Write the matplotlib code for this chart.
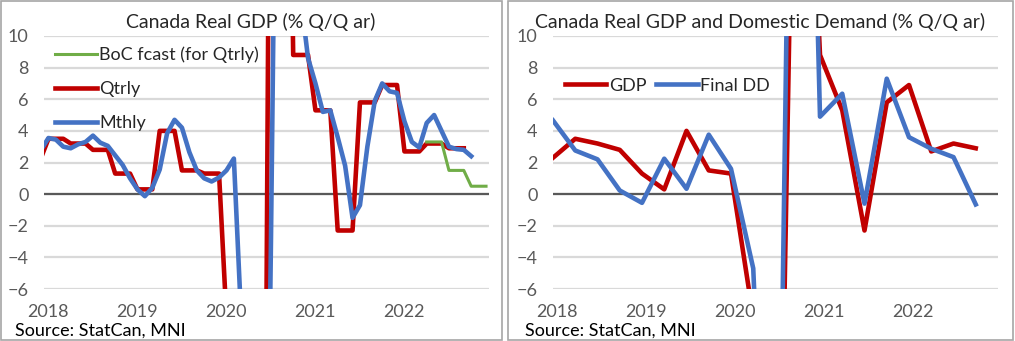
import matplotlib.pyplot as plt
from matplotlib.patches import Rectangle
import numpy as np

plt.rcParams['font.family'] = ['Lato', 'DejaVu Sans']

# GDP q/q annualized, 2017Q4 .. 2022Q3
gdp_q = [2.3, 3.5, 3.2, 2.8, 1.3, 0.3, 4.0, 1.5, 1.3, -7.8,
         -38.0, 40.0, 8.8, 5.3, -2.3, 5.8, 6.9, 2.7, 3.2, 2.9]
# Final domestic demand q/q annualized, 2017Q4 .. 2022Q3
fdd_q = [4.66, 2.76, 2.2, 0.23, -0.55, 2.24, 0.34, 3.76, 1.6, -4.7,
         -38.0, 60.0, 4.9, 6.35, -0.6, 7.3, 3.6, 2.87, 2.34, -0.65]
# BoC forecast, 2022Q2 .. 2022Q4
boc_q = [3.3, 1.5, 0.5]
# monthly GDP, 3m/3m annualized, Dec 2017 .. Oct 2022
gdp_m = [2.8, 3.55, 3.45, 3.0, 2.9, 3.15, 3.3, 3.7, 3.25, 3.05,
         2.45, 1.85, 1.0, 0.3, -0.13, 0.4, 1.55, 3.85, 4.7, 4.2,
         2.65, 1.5, 1.0, 0.8, 1.05, 1.5, 2.25, -8.0, -30.0, -43.0,
         -40.0, -3.0, 38.0, 50.0, 28.0, 12.5, 8.6, 7.0, 5.2, 5.3,
         3.6, 1.8, -1.5, -0.7, 3.0, 5.9, 7.0, 6.5, 6.4, 4.6,
         3.3, 2.95, 4.5, 5.0, 4.0, 3.0, 2.85, 2.8, 2.4]
years = ['2018', '2019', '2020', '2021', '2022']

RED = '#C00000'
BLUE = '#4472C4'
GREEN = '#70AD47'
GREY = '#595959'

# month index: 0 = Jan 2018
qtrly = np.concatenate([[gdp_q[0]], np.repeat(gdp_q[1:], 3)])
m_qtrly = np.arange(-1, -1 + len(qtrly))
m_mthly = np.arange(-1, -1 + len(gdp_m))
m_boc = np.arange(51, 51 + 3 * len(boc_q))
boc = np.repeat(boc_q, 3)
m_quarter = np.arange(len(gdp_q)) * 3 - 1

W, H = 1015, 341
fig = plt.figure(figsize=(W / 100, H / 100), dpi=100)


def px_axes(x0, x1, ytop, ybot):
    return fig.add_axes([x0 / W, 1 - ybot / H, (x1 - x0) / W, (ybot - ytop) / H])


def style(ax):
    ax.set_ylim(-6, 10)
    ax.set_yticks(range(-6, 11, 2))
    for s in ax.spines.values():
        s.set_visible(False)
    ax.yaxis.grid(True, color='#D9D9D9', lw=1.6)
    ax.set_axisbelow(True)
    ax.axhline(0, color=GREY, lw=1.6, zorder=1)
    ax.tick_params(length=0, labelsize=13, colors=GREY)
    ax.tick_params(axis='y', pad=11)
    ax.tick_params(axis='x', pad=11)


lw = 3.3

# left panel
ax1 = px_axes(44, 489, 36, 289)
style(ax1)
ax1.plot(m_boc, boc, color=GREEN, lw=2.2, label='BoC fcast (for Qtrly)', zorder=3)
ax1.plot(m_qtrly, qtrly, color=RED, lw=lw, label='Qtrly', zorder=2)
ax1.plot(m_mthly, gdp_m, color=BLUE, lw=lw, label='Mthly', zorder=4)
ax1.set_xlim(-0.6, 59.4)
ax1.set_xticks(np.arange(len(years)) * 12)
ax1.set_xticklabels(years)
ax1.legend(loc='upper left', bbox_to_anchor=(0.025, 0.958), frameon=False,
           fontsize=13, handlelength=2.3, handletextpad=0.15, labelspacing=1.0,
           borderaxespad=0, borderpad=0, labelcolor='#262626')

# right panel
ax2 = px_axes(553, 998, 36, 289)
style(ax2)
ax2.plot(m_quarter, gdp_q, color=RED, lw=lw, label='GDP', zorder=2)
ax2.plot(m_quarter, fdd_q, color=BLUE, lw=lw, label='Final DD', zorder=3)
ax2.set_xlim(-1, 59)
ax2.set_xticks(np.arange(len(years)) * 12 - 0.4)
ax2.set_xticklabels(years)
ax2.legend(loc='upper left', bbox_to_anchor=(0.026, 0.835), frameon=False, ncol=2,
           fontsize=13, handlelength=2.3, handletextpad=0.15, columnspacing=0.55,
           borderaxespad=0, borderpad=0, labelcolor='#262626')

# titles and sources
fig.text(251 / W, 1 - 28 / H, 'Canada Real GDP (% Q/Q ar)', ha='center',
         va='baseline', fontsize=14, color='#262626')
fig.text(760 / W, 1 - 28 / H, 'Canada Real GDP and Domestic Demand (% Q/Q ar)',
         ha='center', va='baseline', fontsize=14, color='#262626')
fig.text(15 / W, 1 - 336 / H, 'Source: StatCan, MNI', ha='left', va='baseline',
         fontsize=13, color='#000000')
fig.text(525 / W, 1 - 336 / H, 'Source: StatCan, MNI', ha='left', va='baseline',
         fontsize=13, color='#000000')

# chart borders
for x0, x1 in [(1, 502), (508, 1013)]:
    fig.patches.append(Rectangle((x0 / W, 1 / H), (x1 - x0) / W, (H - 2) / H,
                                 transform=fig.transFigure, fill=False,
                                 edgecolor='#A6A6A6', lw=1.2))

fig.savefig('out.png', dpi=100)
